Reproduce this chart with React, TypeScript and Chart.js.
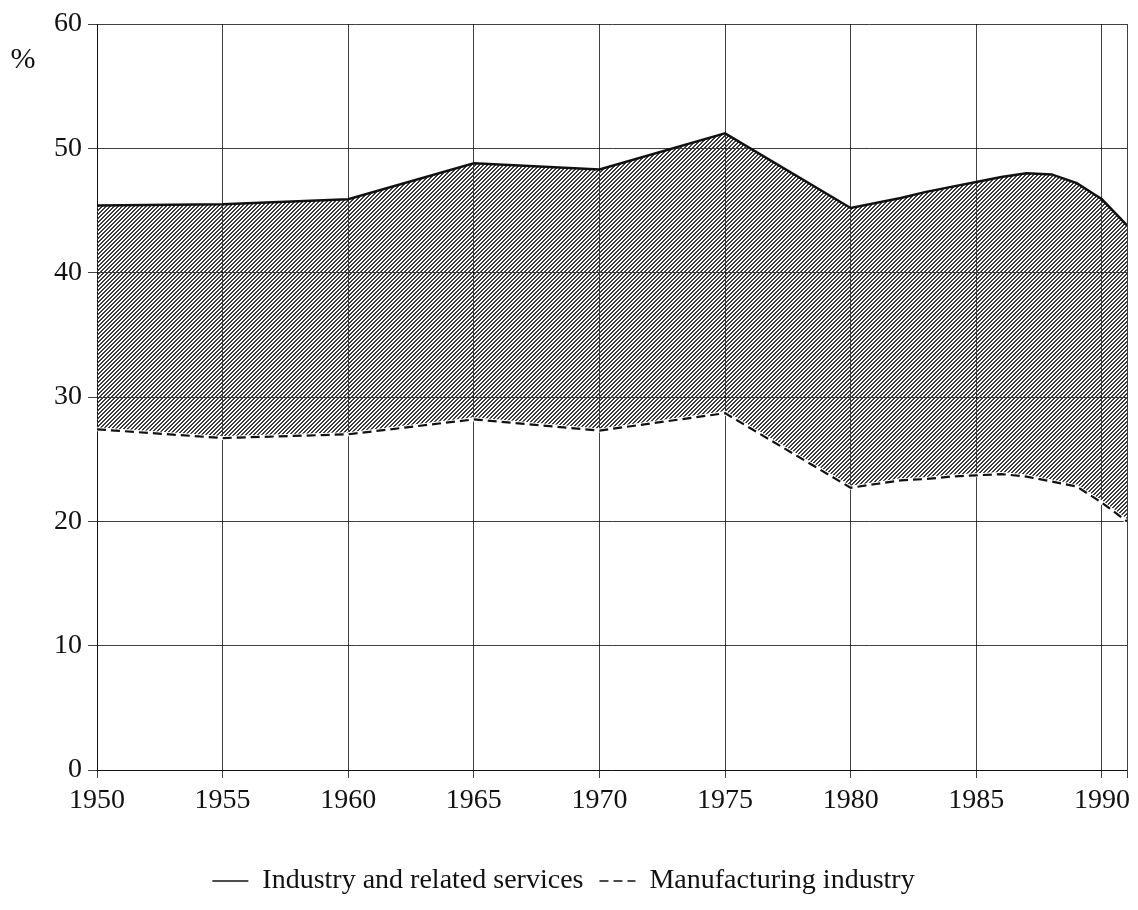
import React, { useEffect, useRef } from "react";
import { Chart, registerables } from "chart.js";

Chart.register(...registerables);

const years = [1950, 1955, 1960, 1965, 1970, 1975, 1980, 1981, 1982, 1983, 1984, 1985, 1986, 1987, 1988, 1989, 1990, 1991];
const industryServices = [45.4, 45.5, 45.9, 48.8, 48.3, 51.2, 45.2, 45.6, 46.0, 46.5, 46.9, 47.3, 47.7, 48.0, 47.9, 47.2, 45.9, 43.8];
const manufacturing = [27.4, 26.7, 27.0, 28.2, 27.3, 28.7, 22.7, 23.0, 23.3, 23.4, 23.6, 23.7, 23.8, 23.6, 23.2, 22.8, 21.5, 20.0];
const xTicks = [1950, 1955, 1960, 1965, 1970, 1975, 1980, 1985, 1990, 1991];
const xLabelled = [1950, 1955, 1960, 1965, 1970, 1975, 1980, 1985, 1990];
const seriesLabels = ["Industry and related services", "Manufacturing industry"];
const yUnit = "%";

const FONT = "'Liberation Serif', 'DejaVu Serif', serif";
const INK = "#111";
const GRID = "rgba(0,0,0,0.75)";
const DASH = [9, 5];

function makeHatch(): CanvasPattern | string {
  const c = document.createElement("canvas");
  c.width = 4;
  c.height = 4;
  const g = c.getContext("2d");
  if (!g) return "#888";
  const img = g.createImageData(4, 4);
  for (let r = 0; r < 4; r++) {
    const cols = [3 - r, (4 - r) % 4];
    for (const col of cols) {
      const i = (r * 4 + col) * 4;
      img.data[i] = 60;
      img.data[i + 1] = 60;
      img.data[i + 2] = 60;
      img.data[i + 3] = 255;
    }
  }
  g.putImageData(img, 0, 0);
  const p = g.createPattern(c, "repeat");
  return p || "#888";
}

export default function App() {
  const ref = useRef<HTMLCanvasElement | null>(null);

  useEffect(() => {
    document.body.style.margin = "0";
    document.body.style.background = "#fff";
    if (!ref.current) return;
    const hatch = makeHatch();

    const unitPlugin = {
      id: "unitLabel",
      afterDraw(chart: any) {
        const ctx = chart.ctx;
        ctx.save();
        ctx.fillStyle = INK;
        ctx.font = `30px ${FONT}`;
        ctx.textAlign = "center";
        ctx.textBaseline = "middle";
        ctx.fillText(yUnit, 23, 60);
        ctx.restore();
      },
    };

    const manuPts = years.map((x, i) => ({ x, y: manufacturing[i] }));
    const indPts = years.map((x, i) => ({ x, y: industryServices[i] }));

    const chart = new Chart(ref.current, {
      type: "line",
      data: {
        datasets: [
          {
            label: seriesLabels[1],
            data: manuPts,
            borderColor: INK,
            borderWidth: 2.2,
            borderDash: DASH,
            pointRadius: 0,
            fill: false,
            tension: 0,
          },
          {
            label: "_gap",
            data: manuPts,
            borderColor: "#fff",
            borderWidth: 4,
            pointRadius: 0,
            fill: false,
            tension: 0,
          },
          {
            label: seriesLabels[0],
            data: indPts,
            borderColor: INK,
            borderWidth: 2.5,
            pointRadius: 0,
            fill: 0,
            backgroundColor: hatch as any,
            tension: 0,
          },
        ],
      },
      options: {
        animation: false,
        responsive: true,
        maintainAspectRatio: false,
        layout: { padding: { left: 0, right: 11, top: 24, bottom: 5 } },
        plugins: {
          tooltip: { enabled: false },
          legend: {
            position: "bottom",
            labels: {
              usePointStyle: true,
              pointStyle: "line",
              pointStyleWidth: 36,
              padding: 16,
              color: INK,
              font: { family: FONT, size: 28 },
              generateLabels: () =>
                [
                  { idx: 2, dash: [] as number[] },
                  { idx: 0, dash: DASH },
                ].map((o, k) => ({
                  text: seriesLabels[k],
                  fillStyle: "transparent",
                  strokeStyle: INK,
                  lineWidth: 1.5,
                  lineDash: o.dash,
                  pointStyle: "line",
                  hidden: false,
                  datasetIndex: o.idx,
                  fontColor: INK,
                })),
            },
          },
        },
        scales: {
          x: {
            type: "linear",
            min: 1950,
            max: 1991,
            afterBuildTicks: (s: any) => {
              s.ticks = xTicks.map((v) => ({ value: v }));
            },
            afterFit: (s: any) => {
              s.height = 81;
            },
            ticks: {
              autoSkip: false,
              maxRotation: 0,
              padding: 6,
              color: INK,
              font: { family: FONT, size: 28 },
              callback: (v: any) => (xLabelled.includes(Number(v)) ? String(v) : ""),
            },
            grid: { color: GRID, lineWidth: 1, tickLength: 8, drawTicks: true },
            border: { color: GRID, width: 1 },
          },
          y: {
            min: 0,
            max: 60,
            afterFit: (s: any) => {
              s.width = 97;
            },
            ticks: {
              stepSize: 10,
              padding: 6,
              color: INK,
              font: { family: FONT, size: 28 },
            },
            grid: { color: GRID, lineWidth: 1, tickLength: 9, drawTicks: true },
            border: { color: GRID, width: 1 },
          },
        },
      },
      plugins: [unitPlugin],
    });
    return () => chart.destroy();
  }, []);

  return (
    <div style={{ width: 1138, height: 910, position: "relative", background: "#fff" }}>
      <canvas ref={ref} />
    </div>
  );
}
